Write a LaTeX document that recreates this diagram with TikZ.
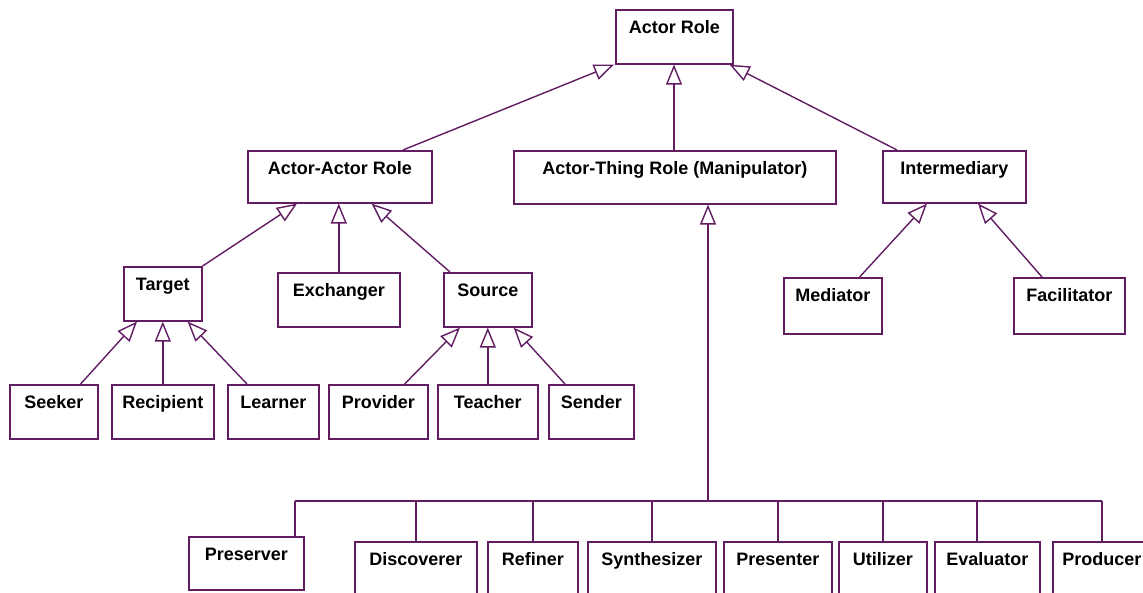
\documentclass[tikz,border=0pt]{standalone}
\usepackage{fontspec}
\setmainfont{Liberation Sans}
\usepackage{tikz}
\usetikzlibrary{arrows.meta}
\definecolor{umlline}{RGB}{98,28,98}
\tikzset{
    rolebox/.style={
        draw=umlline, rectangle, anchor=north west,
        line width=1.6pt, inner sep=0pt, text=black,
        text height=24pt, text depth=30pt,
        font=\bfseries\fontsize{18}{20}\selectfont
    }
}

\begin{document}
\begin{tikzpicture}[
        x=1pt, y=-1pt,
        gen/.style={
            draw=umlline, line width=1.4pt,
            -{Triangle[open,length=20pt,width=16pt,line width=1.4pt]}
        },
        tree/.style={draw=umlline, line width=1.5pt}
      ]
    \useasboundingbox (0,0) rectangle (1143,592);
    \clip (0,0) rectangle (1143,592);

    \node[rolebox,minimum width=117pt] (actor) at (615,9) {Actor Role};

    \node[rolebox,minimum width=184pt,text depth=28pt] (aarole) at (247,150) {Actor-Actor Role};
    \node[rolebox,minimum width=322pt,text depth=29pt] (atrole) at (513,150) {Actor-Thing Role (Manipulator)};
    \node[rolebox,minimum width=143pt,text depth=28pt] (inter)  at (882,150) {Intermediary};

    \node[rolebox,minimum width=78pt]  (target) at (123,266) {Target};
    \node[rolebox,minimum width=122pt] (exch)   at (277,272) {Exchanger};
    \node[rolebox,minimum width=88pt]  (source) at (443,272) {Source};

    \node[rolebox,minimum width=88pt]  (seeker)    at (9,384)   {Seeker};
    \node[rolebox,minimum width=102pt] (recipient) at (111,384) {Recipient};
    \node[rolebox,minimum width=91pt]  (learner)   at (227,384) {Learner};
    \node[rolebox,minimum width=99pt]  (provider)  at (328,384) {Provider};
    \node[rolebox,minimum width=100pt] (teacher)   at (437,384) {Teacher};
    \node[rolebox,minimum width=85pt]  (sender)    at (548,384) {Sender};

    \node[rolebox,minimum width=98pt,text depth=32pt]  (mediator) at (783,277)  {Mediator};
    \node[rolebox,minimum width=111pt,text depth=32pt] (facil)    at (1013,277) {Facilitator};

    \node[rolebox,minimum width=115pt,text depth=29pt] (preserver) at (188,536) {Preserver};
    \node[rolebox,minimum width=122pt] (discoverer) at (354,541)  {Discoverer};
    \node[rolebox,minimum width=90pt]  (refiner)    at (487,541)  {Refiner};
    \node[rolebox,minimum width=128pt] (synth)      at (587,541)  {Synthesizer};
    \node[rolebox,minimum width=108pt] (presenter)  at (723,541)  {Presenter};
    \node[rolebox,minimum width=88pt]  (utilizer)   at (838,541)  {Utilizer};
    \node[rolebox,minimum width=105pt] (evaluator)  at (934,541)  {Evaluator};
    \node[rolebox,minimum width=98pt]  (producer)   at (1052,541) {Producer};

    \coordinate (bus) at (708,501);
    \coordinate (presdrop) at ([xshift=107pt]preserver.north west);
    \coordinate (evaldrop) at ([xshift=43pt]evaluator.north west);

    % generalisations
    \draw[gen] ([xshift=156pt]aarole.north west) -- ([xshift=-1pt]actor.south west);
    \draw[gen] ([xshift=161pt]atrole.north west) -- ([xshift=59pt]actor.south west);
    \draw[gen] ([xshift=15pt]inter.north west) -- ([xshift=-4pt]actor.south east);

    \draw[gen] (target.north east) -- ([xshift=50pt]aarole.south west);
    \draw[gen] (exch.north) -- (exch.north |- aarole.south);
    \draw[gen] ([xshift=7pt]source.north west) -- ([xshift=-61pt]aarole.south east);

    \draw[gen] ([xshift=-18pt]seeker.north east) -- ([xshift=14pt]target.south west);
    \draw[gen] (recipient.north) -- (recipient.north |- target.south);
    \draw[gen] ([xshift=20pt]learner.north west) -- ([xshift=-15pt]target.south east);

    \draw[gen] ([xshift=-24pt]provider.north east) -- ([xshift=17pt]source.south west);
    \draw[gen] (teacher.north) -- (teacher.north |- source.south);
    \draw[gen] ([xshift=17pt]sender.north west) -- ([xshift=-19pt]source.south east);

    \draw[gen] ([xshift=-23pt]mediator.north east) -- ([xshift=45pt]inter.south west);
    \draw[gen] ([xshift=29pt]facil.north west) -- ([xshift=96pt]inter.south west);

    \draw[gen] (bus) -- (bus |- atrole.south);

    % manipulator kinds
    \draw[tree] (presdrop |- bus) -- (producer.north |- bus);
    \draw[tree] (presdrop) -- (presdrop |- bus);
    \draw[tree] (evaldrop) -- (evaldrop |- bus);
    \foreach \n in {discoverer,refiner,synth,presenter,utilizer,producer}
        \draw[tree] (\n.north) -- (\n.north |- bus);

\end{tikzpicture}
\end{document}
